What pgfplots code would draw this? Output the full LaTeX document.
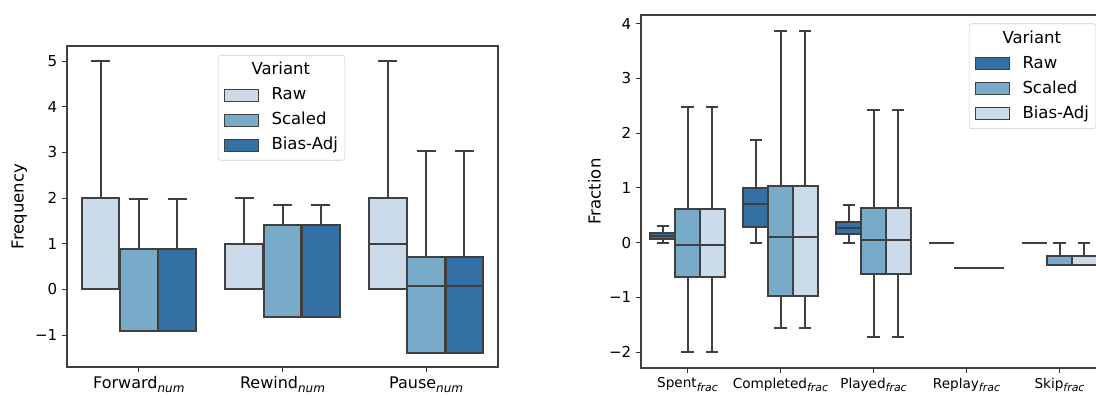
\documentclass[border=0pt]{standalone}
\usepackage{fontspec}
\setmainfont{DejaVu Sans}
\usepackage{pgfplots}
\pgfplotsset{compat=1.18}
\usepgfplotslibrary{statistics}
\definecolor{cL}{HTML}{CBDBEA}
\definecolor{cM}{HTML}{78ABC9}
\definecolor{cD}{HTML}{3470A3}
\definecolor{eg}{HTML}{404040}
\newcommand{\subL}[1]{\raisebox{-3pt}{\fontsize{9}{10}\selectfont\itshape #1}}
\newcommand{\subR}[1]{\raisebox{-2.7pt}{\fontsize{8.2}{9}\selectfont\itshape #1}}
\newcommand{\bx}[7]{\addplot[forget plot, boxplot/draw direction=y, boxplot prepared={draw position=#1, lower whisker=#2, lower quartile=#3, median=#4, upper quartile=#5, upper whisker=#6, box extend=0.263, whisker extend=0.133}, fill=#7, draw=eg, line width=1.5pt] coordinates {};}
\pgfplotsset{
  mystyle/.style={
    scale only axis, anchor=south west,
    axis line style={black!75, line width=0.9pt},
    tick style={black!80, line width=0.8pt},
    major tick length=3.75pt,
    tick align=outside,
    xtick pos=lower, ytick pos=left,
    ylabel style={inner sep=0pt, anchor=south, font=\fontsize{12.4}{15}\selectfont},
    legend cell align=left,
    legend image code/.code={\draw[##1, sharp corners, fill opacity=1, draw opacity=1, line width=0.8pt] (0pt,-4.5pt) rectangle (25.5pt,4.5pt);},
    legend style={font=\fontsize{12.4}{15}\selectfont, draw=black!20, rounded corners=2pt, fill=white, fill opacity=0.8, text opacity=1, inner xsep=4.25pt, inner ysep=4pt, row sep=4.25pt, nodes={inner sep=1pt, text height=9.5pt, text depth=3pt}, /tikz/every odd column/.append style={column sep=8.5pt}},
  }
}
\begin{document}
\begin{tikzpicture}[trim right=822pt]
\path (0,0) rectangle (822pt,294pt);
% ---------------- left panel ----------------
\begin{axis}[mystyle,
  at={(50.25pt,18.75pt)}, width=323.25pt, height=240.75pt,
  xmin=-0.5, xmax=2.5, ymin=-1.70, ymax=5.33,
  xtick={0,1,2},
  xticklabels={Forward\subL{num}, Rewind\subL{num}, Pause\subL{num}},
  xticklabel style={font=\fontsize{12}{14}\selectfont},
  ytick={-1,0,1,2,3,4,5},
  yticklabels={−1,0,1,2,3,4,5},
  yticklabel style={font=\fontsize{11.3}{13}\selectfont},
  ylabel={Frequency},
  ylabel style={at={(axis description cs:-0.092,0.5)}},
  legend style={at={(0.350,0.972)}, anchor=north west},
]
\addlegendimage{empty legend}\addlegendentry{\hspace*{-15pt}Variant}
\addlegendimage{fill=cL, draw=eg}\addlegendentry{Raw}
\addlegendimage{fill=cM, draw=eg}\addlegendentry{Scaled}
\addlegendimage{fill=cD, draw=eg}\addlegendentry{Bias-Adj}
% Forward
\bx{-0.2667}{0}{0}{0}{2}{5}{cL}
\bx{0}{-0.906}{-0.906}{-0.906}{0.877}{1.98}{cM}
\bx{0.2667}{-0.906}{-0.906}{-0.906}{0.877}{1.98}{cD}
% Rewind
\bx{0.7333}{0}{0}{0}{1}{2}{cL}
\bx{1}{-0.614}{-0.614}{-0.614}{1.40}{1.857}{cM}
\bx{1.2667}{-0.614}{-0.614}{-0.614}{1.40}{1.857}{cD}
% Pause
\bx{1.7333}{0}{0}{1}{2}{5}{cL}
\bx{2}{-1.385}{-1.385}{0.08}{0.72}{3.04}{cM}
\bx{2.2667}{-1.385}{-1.385}{0.08}{0.72}{3.04}{cD}
\end{axis}
% ---------------- right panel ----------------
\begin{axis}[mystyle,
  at={(480.75pt,18pt)}, width=348.75pt, height=264.75pt,
  xmin=-0.5, xmax=4.5, ymin=-2.29, ymax=4.16,
  xtick={0,1,2,3,4},
  xticklabels={Spent\subR{frac}, Completed\subR{frac}, Played\subR{frac}, Replay\subR{frac}, Skip\subR{frac}},
  xticklabel style={font=\fontsize{10.2}{12}\selectfont},
  ytick={-2,-1,0,1,2,3,4},
  yticklabels={−2,−1,0,1,2,3,4},
  yticklabel style={font=\fontsize{11.3}{13}\selectfont},
  ylabel={Fraction},
  ylabel style={at={(axis description cs:-0.086,0.5)}},
  legend style={at={(0.705,0.976)}, anchor=north west},
]
\addlegendimage{empty legend}\addlegendentry{\hspace*{-15pt}Variant}
\addlegendimage{fill=cD, draw=eg}\addlegendentry{Raw}
\addlegendimage{fill=cM, draw=eg}\addlegendentry{Scaled}
\addlegendimage{fill=cL, draw=eg}\addlegendentry{Bias-Adj}
% Spent
\bx{-0.2667}{0}{0.06}{0.12}{0.17}{0.305}{cD}
\bx{0}{-1.99}{-0.62}{-0.04}{0.62}{2.48}{cM}
\bx{0.2667}{-1.99}{-0.62}{-0.04}{0.62}{2.48}{cL}
% Completed
\bx{0.7333}{0}{0.29}{0.71}{0.99}{1.88}{cD}
\bx{1}{-1.55}{-0.97}{0.10}{1.03}{3.87}{cM}
\bx{1.2667}{-1.55}{-0.97}{0.10}{1.03}{3.87}{cL}
% Played
\bx{1.7333}{0}{0.16}{0.27}{0.37}{0.69}{cD}
\bx{2}{-1.73}{-0.57}{0.055}{0.63}{2.42}{cM}
\bx{2.2667}{-1.73}{-0.57}{0.055}{0.63}{2.42}{cL}
% Replay
\bx{2.7333}{0}{0}{0}{0}{0}{cD}
\bx{3}{-0.47}{-0.47}{-0.47}{-0.47}{-0.47}{cM}
\bx{3.2667}{-0.47}{-0.47}{-0.47}{-0.47}{-0.47}{cL}
% Skip
\bx{3.7333}{0}{0}{0}{0}{0}{cD}
\bx{4}{-0.41}{-0.41}{-0.41}{-0.24}{0}{cM}
\bx{4.2667}{-0.41}{-0.41}{-0.41}{-0.24}{0}{cL}
\end{axis}
\end{tikzpicture}
\end{document}
